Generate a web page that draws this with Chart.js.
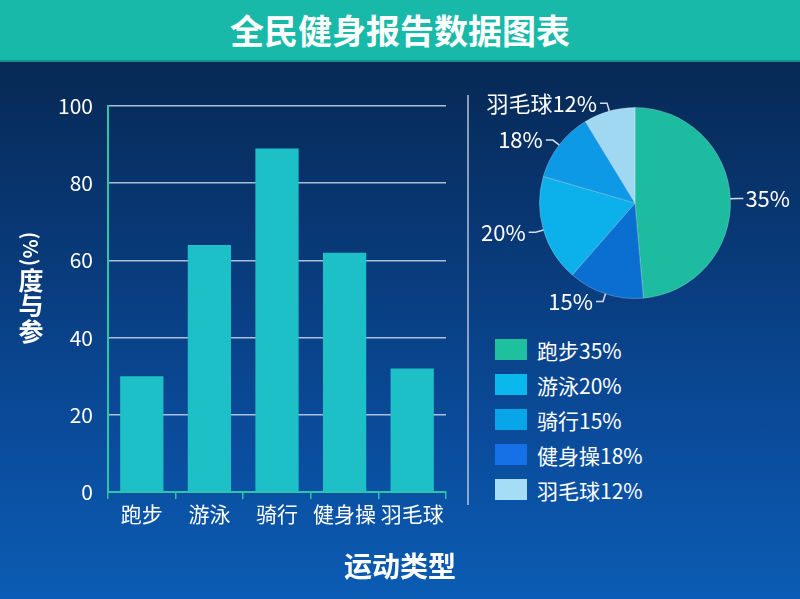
<!DOCTYPE html>
<html>
<head>
<meta charset="utf-8">
<script src="https://cdn.jsdelivr.net/npm/chart.js@4"></script>
<style>
  html, body { margin: 0; padding: 0; }
  body {
    width: 800px; height: 599px; position: relative; overflow: hidden;
    font-family: "Noto Sans CJK SC", "Noto Sans", sans-serif; color: #fff;
    background: linear-gradient(to bottom, #062449 0%, #08336b 30%, #0a4a98 70%, #0b5cb4 100%);
  }
  #banner {
    position: absolute; left: 0; top: 0; width: 800px; height: 60px;
    background: #19b9aa; border-bottom: 2px solid #0f8f8a;
    text-align: center; line-height: 60px; font-size: 34px; font-weight: bold;
  }
  #sep { position: absolute; left: 467px; top: 95px; width: 1.5px; height: 410px; background: rgba(190,205,225,0.7); }
  #xtitle { position: absolute; left: 0; width: 800px; top: 545px; text-align: center; font-size: 28px; font-weight: bold; }
  #legend { position: absolute; left: 495px; top: 332px; }
  .item { height: 35px; display: flex; align-items: center; font-size: 21px; }
  .box { width: 32px; height: 21px; margin-right: 10px; }
  canvas { position: absolute; }
</style>
</head>
<body>
<div id="banner">全民健身报告数据图表</div>
<div id="sep"></div>
<canvas id="bar" width="470" height="599" style="left:0;top:0"></canvas>
<canvas id="pie" width="320" height="240" style="left:480px;top:80px"></canvas>
<div id="legend"></div>
<div id="xtitle">运动类型</div>
<script>
// 数据
const categories = ["跑步", "游泳", "骑行", "健身操", "羽毛球"];
const participation = [30, 64, 89, 62, 32];
const yTicks = [0, 20, 40, 60, 80, 100];

// 饼图（按图中扇区大小读取）
const pieShares = [48.6, 12.8, 18.1, 11.8, 8.7];
const pieLabels = ["35%", "15%", "20%", "18%", "羽毛球12%"];
const pieColors = ["#1dbba0", "#0b6fd2", "#0cb0ea", "#0d99e6", "#a0d8f2"];

// 图例
const legendNames = ["跑步", "游泳", "骑行", "健身操", "羽毛球"];
const legendPcts = [35, 20, 15, 18, 12];
const legendColors = ["#1fc09e", "#0ab8ee", "#08a6e8", "#1670e8", "#a5dcf6"];

const FONT = '"Noto Sans CJK SC", "Noto Sans", sans-serif';
const teal = "#2ec4a8";

// 纵轴标题：字符直立，(%) 旋转
const yTitlePlugin = {
  id: "yTitle",
  afterDraw(chart) {
    const ctx = chart.ctx;
    ctx.save();
    ctx.fillStyle = "#fff";
    ctx.textAlign = "center";
    ctx.textBaseline = "middle";
    const x = 31;
    ctx.font = "bold 25px " + FONT;
    const chars = ["参", "与", "度"];
    chars.forEach((c, i) => ctx.fillText(c, x, 331 - i * 25.5));
    ctx.font = "bold 20px " + FONT;
    ctx.translate(x, 249);
    ctx.rotate(Math.PI / 2);
    ctx.fillText("(%)", 0, 0);
    ctx.restore();
  }
};

new Chart(document.getElementById("bar"), {
  type: "bar",
  data: {
    labels: categories,
    datasets: [{
      data: participation,
      backgroundColor: "#1ec0c8",
      categoryPercentage: 1,
      barPercentage: 0.64
    }]
  },
  options: {
    responsive: false,
    animation: false,
    layout: { padding: { left: 0, top: 106, right: 24, bottom: 0 } },
    plugins: { legend: { display: false }, tooltip: { enabled: false } },
    scales: {
      x: {
        afterFit(s) { s.height = 107; },
        grid: { drawOnChartArea: false, drawTicks: true, tickLength: 7, color: teal, lineWidth: 1.5 },
        border: { color: teal, width: 2 },
        ticks: { color: "#fff", font: { size: 21, family: FONT }, padding: 2, maxRotation: 0, autoSkip: false }
      },
      y: {
        min: 0, max: 100,
        afterFit(s) { s.width = 108; },
        afterBuildTicks(s) { s.ticks = yTicks.map(v => ({ value: v })); },
        grid: { drawTicks: false, color: "rgba(200,215,235,0.85)", lineWidth: 1.5 },
        border: { color: teal, width: 2 },
        ticks: { color: "#fff", font: { size: 21, family: FONT }, padding: 15 }
      }
    }
  },
  plugins: [yTitlePlugin]
});

// 饼图标签与引线
const pieLabelPlugin = {
  id: "pieLabels",
  afterDatasetsDraw(chart) {
    const ctx = chart.ctx;
    const arcs = chart.getDatasetMeta(0).data;
    ctx.save();
    ctx.strokeStyle = "rgba(235,240,248,0.9)";
    ctx.lineWidth = 1.5;
    ctx.fillStyle = "#fff";
    ctx.font = "22px " + FONT;
    ctx.textBaseline = "middle";
    arcs.forEach((a, i) => {
      const mid = (a.startAngle + a.endAngle) / 2;
      const dx = Math.cos(mid), dy = Math.sin(mid);
      const r = a.outerRadius;
      const x0 = a.x + dx * r, y0 = a.y + dy * r;
      const x1 = a.x + dx * (r + 8), y1 = a.y + dy * (r + 8);
      const right = dx >= 0;
      const x2 = x1 + (right ? 5 : -7);
      ctx.beginPath();
      ctx.moveTo(x0, y0);
      ctx.lineTo(x1, y1);
      ctx.lineTo(x2, y1);
      ctx.stroke();
      ctx.textAlign = right ? "left" : "right";
      ctx.fillText(pieLabels[i], x2 + (right ? 2 : -3), y1);
    });
    ctx.restore();
  }
};

new Chart(document.getElementById("pie"), {
  type: "pie",
  data: {
    labels: pieLabels,
    datasets: [{
      data: pieShares,
      backgroundColor: pieColors,
      borderColor: "rgba(255,255,255,0.25)",
      borderWidth: 1
    }]
  },
  options: {
    responsive: false,
    animation: false,
    layout: { padding: { left: 59, right: 69, top: 27, bottom: 21 } },
    plugins: { legend: { display: false }, tooltip: { enabled: false } }
  },
  plugins: [pieLabelPlugin]
});

// 图例
const legend = document.getElementById("legend");
legendNames.forEach((n, i) => {
  const row = document.createElement("div");
  row.className = "item";
  row.innerHTML = '<div class="box" style="background:' + legendColors[i] + '"></div>' + n + legendPcts[i] + "%";
  legend.appendChild(row);
});
</script>
</body>
</html>
